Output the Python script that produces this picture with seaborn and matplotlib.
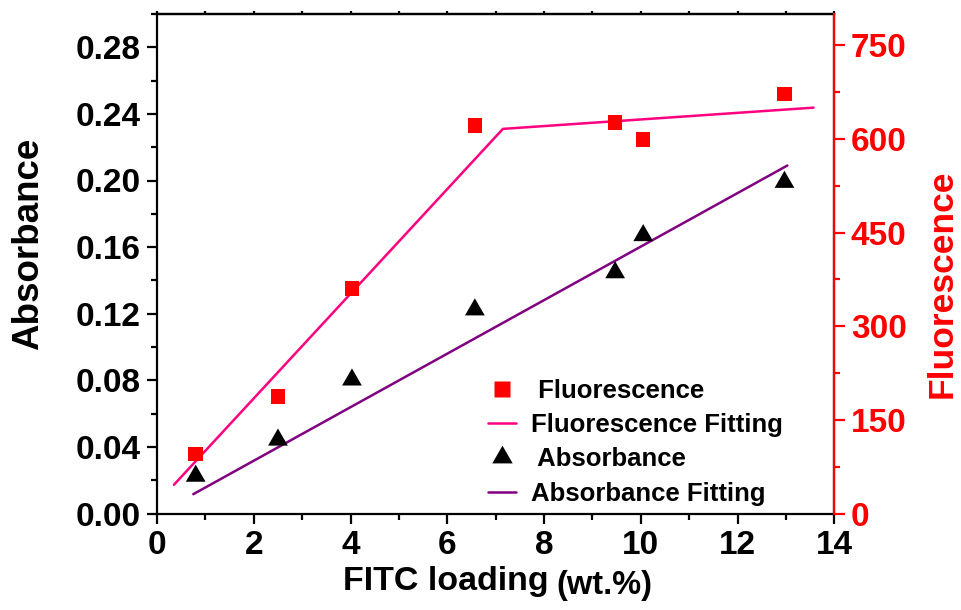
import matplotlib
matplotlib.use("Agg")
import matplotlib.pyplot as plt
from matplotlib.ticker import MultipleLocator
from matplotlib.lines import Line2D
import seaborn as sns
import pandas as pd

# ---- data ----
loading = [0.80, 2.50, 4.03, 6.57, 9.47, 10.05, 12.97]
fluorescence = [95, 187, 360, 621, 626, 599, 672]
absorbance = [0.0225, 0.0442, 0.0803, 0.1224, 0.1447, 0.1670, 0.1990]

fl_fit_x = [0.35, 7.15, 13.57]
fl_fit_y = [46, 616, 650]
ab_fit_x = [0.75, 13.03]
ab_fit_y = [0.0116, 0.2090]

x_ticks = [0, 2, 4, 6, 8, 10, 12, 14]
ab_ticks = [0.00, 0.04, 0.08, 0.12, 0.16, 0.20, 0.24, 0.28]
fl_ticks = [0, 150, 300, 450, 600, 750]

sns.set_theme(style="ticks")
plt.rcParams['font.family'] = ['Liberation Sans', 'DejaVu Sans']
plt.rcParams['text.color'] = 'black'
plt.rcParams['axes.labelcolor'] = 'black'
plt.rcParams['xtick.color'] = 'black'
plt.rcParams['ytick.color'] = 'black'

fig = plt.figure(figsize=(9.61, 6.10), dpi=100)
ax = fig.add_axes([157/961, 1-513.5/610, (834.3-157)/961, (513.5-14)/610])
ax2 = ax.twinx()

pts = pd.DataFrame({"x": loading, "fl": fluorescence, "ab": absorbance})
flfit = pd.DataFrame({"x": fl_fit_x, "y": fl_fit_y})
abfit = pd.DataFrame({"x": ab_fit_x, "y": ab_fit_y})

sns.lineplot(data=flfit, x="x", y="y", ax=ax2, color="#FF0080", lw=1.8, legend=False)
sns.scatterplot(data=pts, x="x", y="fl", ax=ax2, marker="s", s=110, color="#FF0000",
                edgecolor="none", legend=False, zorder=5)
sns.lineplot(data=abfit, x="x", y="y", ax=ax, color="#800080", lw=1.8, legend=False)
sns.scatterplot(data=pts, x="x", y="ab", ax=ax, marker=(3, 0, 0), s=270, color="black",
                edgecolor="none", legend=False, zorder=5)

ax.set_xlim(0, 14)
ax.set_ylim(0, 0.30)
ax2.set_ylim(0, 800)

ax.xaxis.set_minor_locator(MultipleLocator(1))
ax.yaxis.set_minor_locator(MultipleLocator(0.02))
ax2.yaxis.set_minor_locator(MultipleLocator(75))

ax.set_xticks(x_ticks)
ax.set_xticklabels([str(v) for v in x_ticks])
ax.set_yticks(ab_ticks)
ax.set_yticklabels([f"{v:.2f}" for v in ab_ticks])
ax2.set_yticks(fl_ticks)
ax2.set_yticklabels([str(v) for v in fl_ticks])

for sp in ax.spines.values():
    sp.set_linewidth(1.6)
    sp.set_color("black")
ax2.spines["right"].set_color("#FF0000")
ax2.spines["right"].set_linewidth(1.6)
ax2.spines["left"].set_visible(False)
ax2.spines["top"].set_visible(False)
ax2.spines["bottom"].set_visible(False)

ax.tick_params(axis="both", which="major", length=7, width=1.6, direction="out",
               labelsize=24, pad=5, colors="black")
ax.tick_params(axis="both", which="minor", length=4, width=1.6, direction="out",
               colors="black")
ax2.tick_params(axis="y", which="major", length=8, width=1.6, direction="out",
                labelsize=24, pad=4, colors="#FF0000")
ax2.tick_params(axis="y", which="minor", length=4, width=1.6, direction="out",
                colors="#FF0000")
for lab in ax.get_xticklabels() + ax.get_yticklabels() + ax2.get_yticklabels():
    lab.set_fontweight("bold")

# top axis small ticks
secx = ax.secondary_xaxis("top")
secx.set_xticks(range(0, 15))
secx.tick_params(length=2, width=1.6, labeltop=False, direction="out", colors="black")
secx.spines["top"].set_linewidth(1.6)
secx.spines["top"].set_color("black")

# axis titles
ax.set_xlabel("")
fig.text(343/961, (610-590)/610, "FITC loading", fontsize=24.5, fontweight="bold",
         ha="left", va="baseline", color="black")
fig.text(556/961, (610-594)/610, "(wt.%)", fontsize=23.5, fontweight="bold",
         ha="left", va="baseline", color="black")
ax.set_ylabel("Absorbance", fontsize=26.5, fontweight="bold", color="black")
ax.yaxis.set_label_coords((46-157)/677.3, (513.5-244)/499.5)
ax2.set_ylabel("Fluorescence", fontsize=25.5, fontweight="bold", color="#FF0000")
ax2.yaxis.set_label_coords((926-157)/677.3, (513.5-284)/499.5)

handles = [
    Line2D([], [], ls="none", marker="s", ms=11.5, color="#FF0000", mec="none"),
    Line2D([], [], color="#FF0080", lw=1.8),
    Line2D([], [], ls="none", marker=(3, 0, 0), ms=17, color="black", mec="none"),
    Line2D([], [], color="#800080", lw=1.8),
]
labels = [" Fluorescence", "Fluorescence Fitting", " Absorbance", "Absorbance Fitting"]
leg = ax.legend(handles, labels, loc="upper left", bbox_to_anchor=(0.473, 0.290),
                frameon=False, prop=dict(size=18.5, weight="bold"),
                handlelength=1.1, handletextpad=0.6, labelspacing=0.4,
                borderaxespad=0)
for t in leg.get_texts():
    t.set_color("black")

fig.savefig("out.png", dpi=100)
